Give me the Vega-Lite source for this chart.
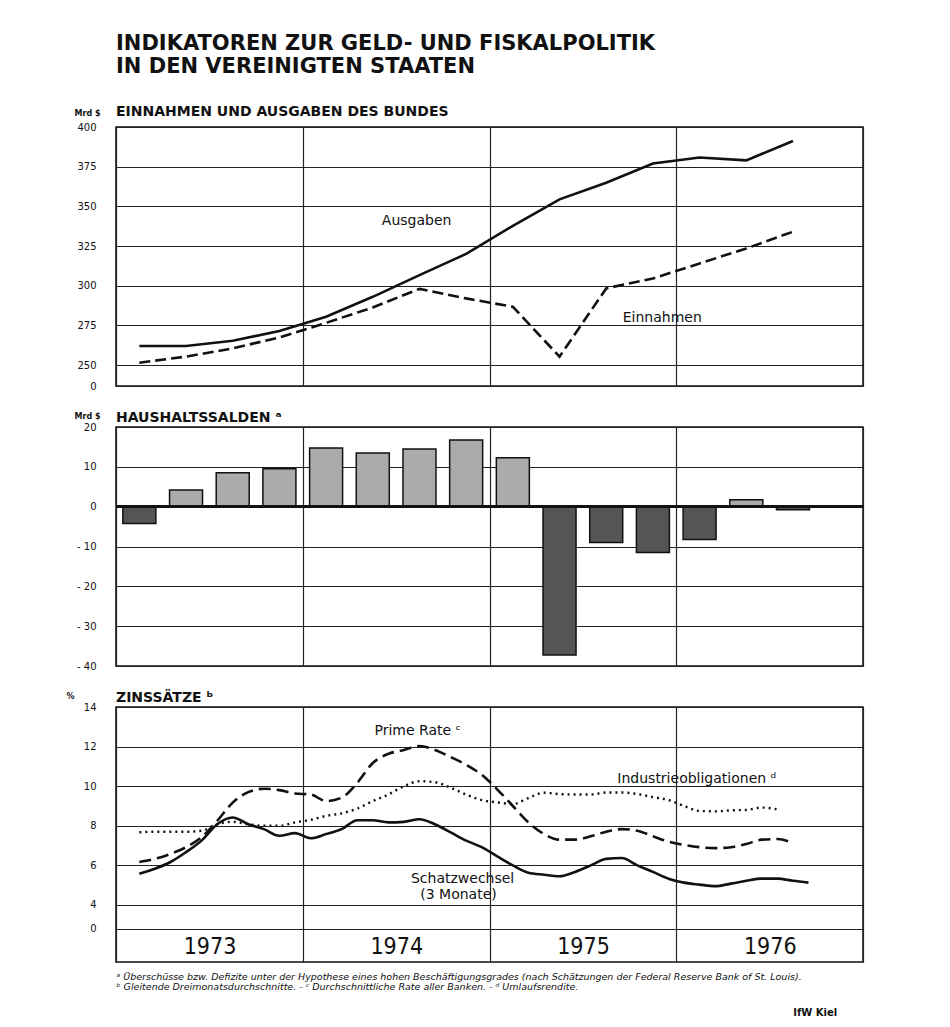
{
 "$schema": "https://vega.github.io/schema/vega-lite/v6.json",
 "background": "white",
 "padding": {"left": 65, "top": 32, "right": 20, "bottom": 5},
 "config": {
  "font": "DejaVu Sans",
  "view": {"stroke": "#111", "strokeWidth": 1.5},
  "axis": {"gridColor": "#222", "gridWidth": 1.2, "gridOpacity": 1, "domain": false, "ticks": false, "tickSize": 0, "labelColor": "#111", "labelFontSize": 10, "labelFont": "DejaVu Sans", "titleColor": "#111", "labelOverlap": false},
  "title": {"color": "#111"}
 },
 "title": {"text": "IfW Kiel", "orient": "bottom", "anchor": "end", "fontSize": 10, "fontWeight": "bold", "font": "DejaVu Sans", "offset": 17, "dx": -120},
 "spacing": 18,
 "vconcat": [
  {
   "width": 747, "height": 259,
   "title": {"text": ["INDIKATOREN ZUR GELD- UND FISKALPOLITIK", "IN DEN VEREINIGTEN STAATEN"], "subtitle": "EINNAHMEN UND AUSGABEN DES BUNDES", "anchor": "start", "frame": "group", "font": "DejaVu Sans", "fontSize": 21, "fontWeight": "bold", "lineHeight": 23, "subtitleFont": "DejaVu Sans", "subtitleFontSize": 14, "subtitleFontWeight": "bold", "subtitleColor": "#111", "subtitlePadding": 22, "offset": -27, "baseline": "alphabetic"},
   "data": {"values": [
    {"t": 1973.125, "v": 262, "series": "Ausgaben"},
    {"t": 1973.375, "v": 262, "series": "Ausgaben"},
    {"t": 1973.625, "v": 265.3, "series": "Ausgaben"},
    {"t": 1973.875, "v": 271.4, "series": "Ausgaben"},
    {"t": 1974.125, "v": 280.4, "series": "Ausgaben"},
    {"t": 1974.375, "v": 293, "series": "Ausgaben"},
    {"t": 1974.625, "v": 306.7, "series": "Ausgaben"},
    {"t": 1974.875, "v": 320, "series": "Ausgaben"},
    {"t": 1975.125, "v": 337.7, "series": "Ausgaben"},
    {"t": 1975.375, "v": 354.4, "series": "Ausgaben"},
    {"t": 1975.625, "v": 364.9, "series": "Ausgaben"},
    {"t": 1975.875, "v": 377, "series": "Ausgaben"},
    {"t": 1976.125, "v": 380.8, "series": "Ausgaben"},
    {"t": 1976.375, "v": 379, "series": "Ausgaben"},
    {"t": 1976.625, "v": 391.2, "series": "Ausgaben"},
    {"t": 1973.125, "v": 251.5, "series": "Einnahmen"},
    {"t": 1973.375, "v": 255.3, "series": "Einnahmen"},
    {"t": 1973.625, "v": 260.5, "series": "Einnahmen"},
    {"t": 1973.875, "v": 267.4, "series": "Einnahmen"},
    {"t": 1974.125, "v": 276.6, "series": "Einnahmen"},
    {"t": 1974.375, "v": 286.3, "series": "Einnahmen"},
    {"t": 1974.625, "v": 298, "series": "Einnahmen"},
    {"t": 1974.875, "v": 292, "series": "Einnahmen"},
    {"t": 1975.125, "v": 286.7, "series": "Einnahmen"},
    {"t": 1975.375, "v": 255.3, "series": "Einnahmen"},
    {"t": 1975.625, "v": 298.3, "series": "Einnahmen"},
    {"t": 1975.875, "v": 304.6, "series": "Einnahmen"},
    {"t": 1976.125, "v": 314, "series": "Einnahmen"},
    {"t": 1976.375, "v": 323.5, "series": "Einnahmen"},
    {"t": 1976.625, "v": 334, "series": "Einnahmen"}
   ]},
   "layer": [
    {
     "transform": [{"filter": "datum.series == 'Ausgaben'"}],
     "mark": {"type": "line", "strokeWidth": 2.6, "color": "#111"},
     "encoding": {
      "x": {"field": "t", "type": "quantitative", "scale": {"domain": [1973, 1977], "nice": false, "zero": false, "padding": 0}, "axis": {"values": [1973, 1974, 1975, 1976, 1977], "tickCount": 20, "labels": false, "title": null, "grid": true}},
      "y": {"field": "v", "type": "quantitative", "scale": {"domain": [236.8, 400], "nice": false, "zero": false}, "axis": {"values": [236.8, 250, 275, 300, 325, 350, 375, 400], "tickCount": 20, "labelExpr": "datum.value < 240 ? '0' : '' + datum.value", "labelOverlap": false, "labelBound": false, "labelPadding": 20, "grid": true, "title": "Mrd $", "titleAngle": 0, "titleX": -42, "titleY": -12, "titleAlign": "left", "titleBaseline": "alphabetic", "titleFontSize": 8, "titleFontWeight": "bold"}}
     }
    },
    {
     "transform": [{"filter": "datum.series == 'Einnahmen'"}],
     "mark": {"type": "line", "strokeWidth": 2.6, "color": "#111", "strokeDash": [11, 5]},
     "encoding": {
      "x": {"field": "t", "type": "quantitative"},
      "y": {"field": "v", "type": "quantitative"}
     }
    },
    {
     "data": {"values": [
      {"t": 1974.61, "v": 340.8, "label": "Ausgaben"},
      {"t": 1975.925, "v": 279.6, "label": "Einnahmen"}
     ]},
     "mark": {"type": "text", "fontSize": 14, "align": "center", "baseline": "middle", "color": "#111", "font": "DejaVu Sans"},
     "encoding": {
      "x": {"field": "t", "type": "quantitative"},
      "y": {"field": "v", "type": "quantitative"},
      "text": {"field": "label"}
     }
    }
   ]
  },
  {
   "width": 747, "height": 239,
   "title": {"text": "HAUSHALTSSALDEN ᵃ", "anchor": "start", "frame": "group", "font": "DejaVu Sans", "fontSize": 14, "fontWeight": "bold", "offset": -24, "baseline": "alphabetic"},
   "data": {"values": [
    {"t": 1973.125, "v": -4.2},
    {"t": 1973.375, "v": 4.2},
    {"t": 1973.625, "v": 8.5},
    {"t": 1973.875, "v": 9.5},
    {"t": 1974.125, "v": 14.75},
    {"t": 1974.375, "v": 13.5},
    {"t": 1974.625, "v": 14.5},
    {"t": 1974.875, "v": 16.75},
    {"t": 1975.125, "v": 12.25},
    {"t": 1975.375, "v": -37.25},
    {"t": 1975.625, "v": -9},
    {"t": 1975.875, "v": -11.5},
    {"t": 1976.125, "v": -8.25},
    {"t": 1976.375, "v": 1.75},
    {"t": 1976.625, "v": -0.75}
   ]},
   "layer": [
    {
     "mark": {"type": "bar", "width": 33, "stroke": "#111", "strokeWidth": 1.5},
     "encoding": {
      "x": {"field": "t", "type": "quantitative", "scale": {"domain": [1973, 1977], "nice": false, "zero": false, "padding": 0}, "axis": {"values": [1973, 1974, 1975, 1976, 1977], "tickCount": 20, "labels": false, "title": null, "grid": true}},
      "y": {"field": "v", "type": "quantitative", "scale": {"domain": [-40, 20], "nice": false}, "axis": {"values": [-40, -30, -20, -10, 0, 10, 20], "tickCount": 20, "labelExpr": "datum.value < 0 ? '- ' + abs(datum.value) : '' + datum.value", "labelOverlap": false, "labelBound": false, "labelPadding": 20, "grid": true, "title": "Mrd $", "titleAngle": 0, "titleX": -42, "titleY": -9, "titleAlign": "left", "titleBaseline": "alphabetic", "titleFontSize": 8, "titleFontWeight": "bold"}},
      "fill": {"condition": {"test": "datum.v < 0", "value": "#555555"}, "value": "#ababab"}
     }
    },
    {
     "mark": {"type": "rule", "strokeWidth": 2, "color": "#111"},
     "encoding": {"y": {"datum": 0, "type": "quantitative"}}
    }
   ]
  },
  {
   "width": 747, "height": 255,
   "title": {"text": "ZINSSÄTZE ᵇ", "anchor": "start", "frame": "group", "font": "DejaVu Sans", "fontSize": 14, "fontWeight": "bold", "offset": -24, "baseline": "alphabetic"},
   "data": {"values": [
    {"t": 1973.125, "v": 5.58, "series": "Schatzwechsel"},
    {"t": 1973.208, "v": 5.83, "series": "Schatzwechsel"},
    {"t": 1973.292, "v": 6.17, "series": "Schatzwechsel"},
    {"t": 1973.375, "v": 6.67, "series": "Schatzwechsel"},
    {"t": 1973.458, "v": 7.25, "series": "Schatzwechsel"},
    {"t": 1973.542, "v": 8.08, "series": "Schatzwechsel"},
    {"t": 1973.625, "v": 8.42, "series": "Schatzwechsel"},
    {"t": 1973.708, "v": 8.08, "series": "Schatzwechsel"},
    {"t": 1973.792, "v": 7.83, "series": "Schatzwechsel"},
    {"t": 1973.875, "v": 7.5, "series": "Schatzwechsel"},
    {"t": 1973.958, "v": 7.63, "series": "Schatzwechsel"},
    {"t": 1974.042, "v": 7.37, "series": "Schatzwechsel"},
    {"t": 1974.125, "v": 7.58, "series": "Schatzwechsel"},
    {"t": 1974.208, "v": 7.83, "series": "Schatzwechsel"},
    {"t": 1974.292, "v": 8.28, "series": "Schatzwechsel"},
    {"t": 1974.375, "v": 8.28, "series": "Schatzwechsel"},
    {"t": 1974.458, "v": 8.17, "series": "Schatzwechsel"},
    {"t": 1974.542, "v": 8.2, "series": "Schatzwechsel"},
    {"t": 1974.625, "v": 8.33, "series": "Schatzwechsel"},
    {"t": 1974.708, "v": 8.08, "series": "Schatzwechsel"},
    {"t": 1974.792, "v": 7.67, "series": "Schatzwechsel"},
    {"t": 1974.875, "v": 7.25, "series": "Schatzwechsel"},
    {"t": 1974.958, "v": 6.92, "series": "Schatzwechsel"},
    {"t": 1975.042, "v": 6.45, "series": "Schatzwechsel"},
    {"t": 1975.125, "v": 6.0, "series": "Schatzwechsel"},
    {"t": 1975.208, "v": 5.63, "series": "Schatzwechsel"},
    {"t": 1975.292, "v": 5.53, "series": "Schatzwechsel"},
    {"t": 1975.375, "v": 5.45, "series": "Schatzwechsel"},
    {"t": 1975.458, "v": 5.67, "series": "Schatzwechsel"},
    {"t": 1975.542, "v": 6.0, "series": "Schatzwechsel"},
    {"t": 1975.625, "v": 6.33, "series": "Schatzwechsel"},
    {"t": 1975.708, "v": 6.37, "series": "Schatzwechsel"},
    {"t": 1975.792, "v": 6.0, "series": "Schatzwechsel"},
    {"t": 1975.875, "v": 5.67, "series": "Schatzwechsel"},
    {"t": 1975.958, "v": 5.33, "series": "Schatzwechsel"},
    {"t": 1976.042, "v": 5.13, "series": "Schatzwechsel"},
    {"t": 1976.125, "v": 5.03, "series": "Schatzwechsel"},
    {"t": 1976.208, "v": 4.95, "series": "Schatzwechsel"},
    {"t": 1976.292, "v": 5.08, "series": "Schatzwechsel"},
    {"t": 1976.375, "v": 5.22, "series": "Schatzwechsel"},
    {"t": 1976.458, "v": 5.33, "series": "Schatzwechsel"},
    {"t": 1976.542, "v": 5.33, "series": "Schatzwechsel"},
    {"t": 1976.625, "v": 5.22, "series": "Schatzwechsel"},
    {"t": 1976.708, "v": 5.13, "series": "Schatzwechsel"},
    {"t": 1973.125, "v": 6.17, "series": "Prime Rate"},
    {"t": 1973.208, "v": 6.33, "series": "Prime Rate"},
    {"t": 1973.292, "v": 6.58, "series": "Prime Rate"},
    {"t": 1973.375, "v": 6.92, "series": "Prime Rate"},
    {"t": 1973.458, "v": 7.42, "series": "Prime Rate"},
    {"t": 1973.542, "v": 8.25, "series": "Prime Rate"},
    {"t": 1973.625, "v": 9.17, "series": "Prime Rate"},
    {"t": 1973.708, "v": 9.7, "series": "Prime Rate"},
    {"t": 1973.792, "v": 9.87, "series": "Prime Rate"},
    {"t": 1973.875, "v": 9.8, "series": "Prime Rate"},
    {"t": 1973.958, "v": 9.63, "series": "Prime Rate"},
    {"t": 1974.042, "v": 9.58, "series": "Prime Rate"},
    {"t": 1974.125, "v": 9.25, "series": "Prime Rate"},
    {"t": 1974.208, "v": 9.42, "series": "Prime Rate"},
    {"t": 1974.292, "v": 10.17, "series": "Prime Rate"},
    {"t": 1974.375, "v": 11.17, "series": "Prime Rate"},
    {"t": 1974.458, "v": 11.63, "series": "Prime Rate"},
    {"t": 1974.542, "v": 11.83, "series": "Prime Rate"},
    {"t": 1974.625, "v": 12.03, "series": "Prime Rate"},
    {"t": 1974.708, "v": 11.83, "series": "Prime Rate"},
    {"t": 1974.792, "v": 11.47, "series": "Prime Rate"},
    {"t": 1974.875, "v": 11.08, "series": "Prime Rate"},
    {"t": 1974.958, "v": 10.58, "series": "Prime Rate"},
    {"t": 1975.042, "v": 9.83, "series": "Prime Rate"},
    {"t": 1975.125, "v": 9.0, "series": "Prime Rate"},
    {"t": 1975.208, "v": 8.17, "series": "Prime Rate"},
    {"t": 1975.292, "v": 7.58, "series": "Prime Rate"},
    {"t": 1975.375, "v": 7.3, "series": "Prime Rate"},
    {"t": 1975.458, "v": 7.3, "series": "Prime Rate"},
    {"t": 1975.542, "v": 7.47, "series": "Prime Rate"},
    {"t": 1975.625, "v": 7.7, "series": "Prime Rate"},
    {"t": 1975.708, "v": 7.83, "series": "Prime Rate"},
    {"t": 1975.792, "v": 7.75, "series": "Prime Rate"},
    {"t": 1975.875, "v": 7.47, "series": "Prime Rate"},
    {"t": 1975.958, "v": 7.2, "series": "Prime Rate"},
    {"t": 1976.042, "v": 7.03, "series": "Prime Rate"},
    {"t": 1976.125, "v": 6.92, "series": "Prime Rate"},
    {"t": 1976.208, "v": 6.87, "series": "Prime Rate"},
    {"t": 1976.292, "v": 6.92, "series": "Prime Rate"},
    {"t": 1976.375, "v": 7.08, "series": "Prime Rate"},
    {"t": 1976.458, "v": 7.3, "series": "Prime Rate"},
    {"t": 1976.542, "v": 7.33, "series": "Prime Rate"},
    {"t": 1976.625, "v": 7.13, "series": "Prime Rate"},
    {"t": 1973.125, "v": 7.67, "series": "Industrieobligationen"},
    {"t": 1973.208, "v": 7.7, "series": "Industrieobligationen"},
    {"t": 1973.292, "v": 7.7, "series": "Industrieobligationen"},
    {"t": 1973.375, "v": 7.7, "series": "Industrieobligationen"},
    {"t": 1973.458, "v": 7.75, "series": "Industrieobligationen"},
    {"t": 1973.542, "v": 8.08, "series": "Industrieobligationen"},
    {"t": 1973.625, "v": 8.2, "series": "Industrieobligationen"},
    {"t": 1973.708, "v": 8.08, "series": "Industrieobligationen"},
    {"t": 1973.792, "v": 8.0, "series": "Industrieobligationen"},
    {"t": 1973.875, "v": 8.0, "series": "Industrieobligationen"},
    {"t": 1973.958, "v": 8.17, "series": "Industrieobligationen"},
    {"t": 1974.042, "v": 8.3, "series": "Industrieobligationen"},
    {"t": 1974.125, "v": 8.5, "series": "Industrieobligationen"},
    {"t": 1974.208, "v": 8.63, "series": "Industrieobligationen"},
    {"t": 1974.292, "v": 8.87, "series": "Industrieobligationen"},
    {"t": 1974.375, "v": 9.25, "series": "Industrieobligationen"},
    {"t": 1974.458, "v": 9.58, "series": "Industrieobligationen"},
    {"t": 1974.542, "v": 10.0, "series": "Industrieobligationen"},
    {"t": 1974.625, "v": 10.25, "series": "Industrieobligationen"},
    {"t": 1974.708, "v": 10.2, "series": "Industrieobligationen"},
    {"t": 1974.792, "v": 9.92, "series": "Industrieobligationen"},
    {"t": 1974.875, "v": 9.58, "series": "Industrieobligationen"},
    {"t": 1974.958, "v": 9.3, "series": "Industrieobligationen"},
    {"t": 1975.042, "v": 9.18, "series": "Industrieobligationen"},
    {"t": 1975.125, "v": 9.1, "series": "Industrieobligationen"},
    {"t": 1975.208, "v": 9.4, "series": "Industrieobligationen"},
    {"t": 1975.292, "v": 9.67, "series": "Industrieobligationen"},
    {"t": 1975.375, "v": 9.6, "series": "Industrieobligationen"},
    {"t": 1975.458, "v": 9.58, "series": "Industrieobligationen"},
    {"t": 1975.542, "v": 9.58, "series": "Industrieobligationen"},
    {"t": 1975.625, "v": 9.68, "series": "Industrieobligationen"},
    {"t": 1975.708, "v": 9.68, "series": "Industrieobligationen"},
    {"t": 1975.792, "v": 9.6, "series": "Industrieobligationen"},
    {"t": 1975.875, "v": 9.45, "series": "Industrieobligationen"},
    {"t": 1975.958, "v": 9.3, "series": "Industrieobligationen"},
    {"t": 1976.042, "v": 9.0, "series": "Industrieobligationen"},
    {"t": 1976.125, "v": 8.75, "series": "Industrieobligationen"},
    {"t": 1976.208, "v": 8.73, "series": "Industrieobligationen"},
    {"t": 1976.292, "v": 8.78, "series": "Industrieobligationen"},
    {"t": 1976.375, "v": 8.8, "series": "Industrieobligationen"},
    {"t": 1976.458, "v": 8.92, "series": "Industrieobligationen"},
    {"t": 1976.542, "v": 8.83, "series": "Industrieobligationen"}
   ]},
   "layer": [
    {
     "transform": [{"filter": "datum.series == 'Schatzwechsel'"}],
     "mark": {"type": "line", "interpolate": "monotone", "color": "#111", "strokeWidth": 2.6},
     "encoding": {
      "x": {"field": "t", "type": "quantitative", "scale": {"domain": [1973, 1977], "nice": false, "zero": false, "padding": 0}, "axis": {"values": [1973, 1974, 1975, 1976, 1977], "tickCount": 20, "grid": true, "labelExpr": "datum.value < 1977 ? '' + datum.value : ''", "labelOffset": 93.5, "labelPadding": -27, "labelBaseline": "top", "labelFontSize": 23, "labelFont": "Liberation Sans Narrow, DejaVu Sans Condensed, sans-serif", "labelFlush": false, "labelOverlap": false, "labelBound": false, "title": ["ᵃ Überschüsse bzw. Defizite unter der Hypothese eines hohen Beschäftigungsgrades (nach Schätzungen der Federal Reserve Bank of St. Louis).", "ᵇ Gleitende Dreimonatsdurchschnitte. - ᶜ Durchschnittliche Rate aller Banken. - ᵈ Umlaufsrendite."], "titleAnchor": "start", "titleAlign": "left", "titleX": 0, "titleY": 17, "titleBaseline": "alphabetic", "titleFontSize": 9.5, "titleFontStyle": "italic", "titleFontWeight": "normal", "titleLineHeight": 10, "titleFont": "DejaVu Sans"}},
      "y": {"field": "v", "type": "quantitative", "scale": {"domain": [1.12, 14], "nice": false, "zero": false}, "axis": {"values": [2.79, 4, 6, 8, 10, 12, 14], "tickCount": 20, "labelExpr": "datum.value < 3 ? '0' : '' + datum.value", "labelOverlap": false, "labelBound": false, "labelPadding": 20, "grid": true, "title": "%", "titleAngle": 0, "titleX": -50, "titleY": -9, "titleAlign": "left", "titleBaseline": "alphabetic", "titleFontSize": 8, "titleFontWeight": "bold"}}
     }
    },
    {
     "transform": [{"filter": "datum.series == 'Prime Rate'"}],
     "mark": {"type": "line", "interpolate": "monotone", "color": "#111", "strokeWidth": 2.6, "strokeDash": [12, 6]},
     "encoding": {
      "x": {"field": "t", "type": "quantitative"},
      "y": {"field": "v", "type": "quantitative"}
     }
    },
    {
     "transform": [{"filter": "datum.series == 'Industrieobligationen'"}],
     "mark": {"type": "line", "interpolate": "monotone", "color": "#111", "strokeWidth": 2.4, "strokeDash": [2, 4]},
     "encoding": {
      "x": {"field": "t", "type": "quantitative"},
      "y": {"field": "v", "type": "quantitative"}
     }
    },
    {
     "data": {"values": [
      {"t": 1974.615, "v": 12.79, "label": "Prime Rate ᶜ"},
      {"t": 1976.11, "v": 10.36, "label": "Industrieobligationen ᵈ"},
      {"t": 1974.856, "v": 5.31, "label": "Schatzwechsel"},
      {"t": 1974.834, "v": 4.5, "label": "(3 Monate)"}
     ]},
     "mark": {"type": "text", "fontSize": 14, "align": "center", "baseline": "middle", "color": "#111", "font": "DejaVu Sans"},
     "encoding": {
      "x": {"field": "t", "type": "quantitative"},
      "y": {"field": "v", "type": "quantitative"},
      "text": {"field": "label"}
     }
    }
   ]
  }
 ]
}
